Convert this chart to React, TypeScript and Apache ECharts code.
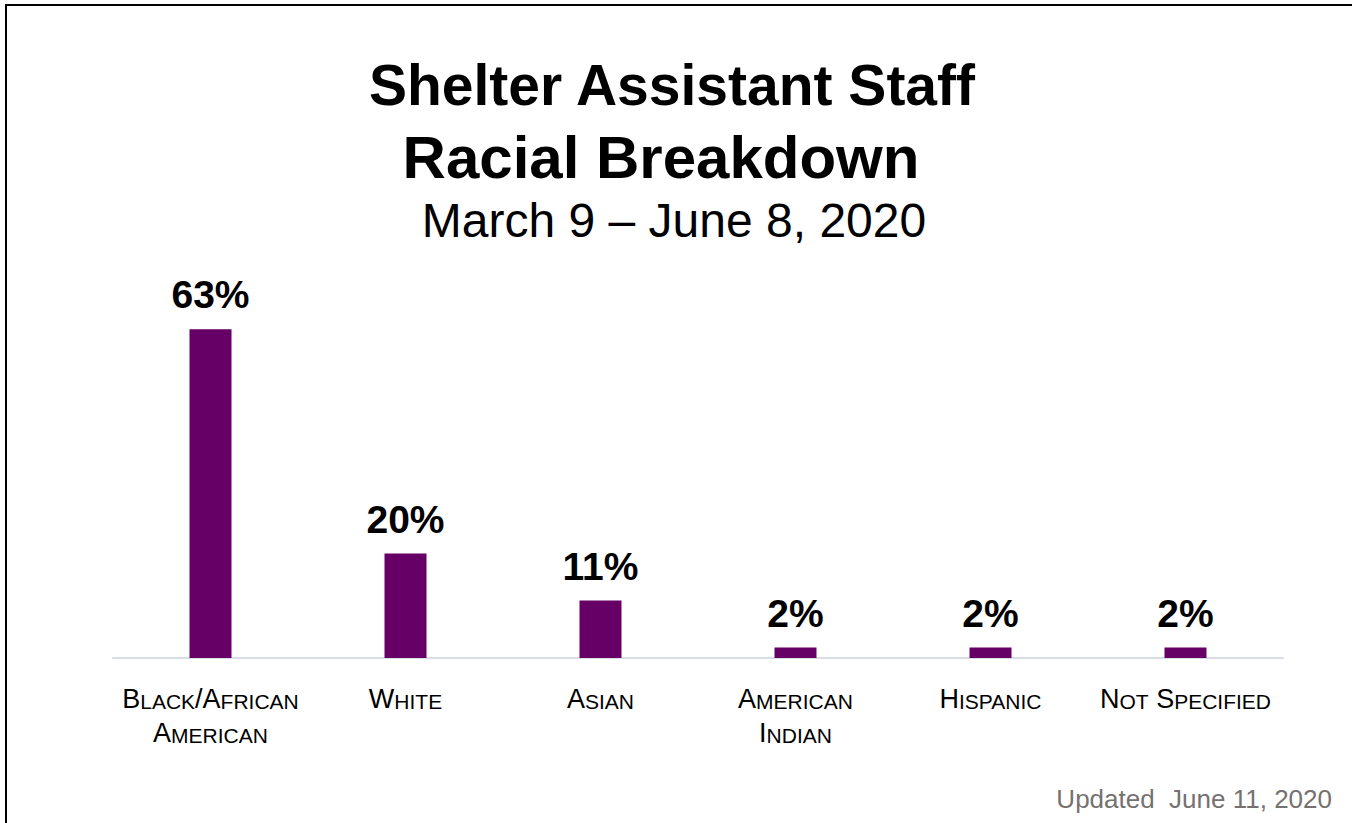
import React, { useEffect, useRef } from "react";
import * as echarts from "echarts";

const categories: string[] = [
  "Black/African\nAmerican",
  "White",
  "Asian",
  "American\nIndian",
  "Hispanic",
  "Not Specified",
];
const percentages: number[] = [63, 20, 11, 2, 2, 2];
const titleLines: string[] = ["Shelter Assistant Staff", "Racial Breakdown"];
const subtitle = "March 9 \u2013 June 8, 2020";
const footnote = "Updated  June 11, 2020";

const FONT = "'Liberation Sans', Arial, Helvetica, sans-serif";
const BAR_COLOR = "#660066";

function smallCaps(text: string): string {
  return text
    .split("\n")
    .map((line) => {
      let out = "";
      let cur = "";
      let curStyle = "";
      for (const ch of line) {
        const isLower = ch >= "a" && ch <= "z";
        const style = isLower ? "s" : "b";
        if (style !== curStyle && cur) {
          out += `{${curStyle}|${cur}}`;
          cur = "";
        }
        curStyle = style;
        cur += ch.toUpperCase();
      }
      if (cur) out += `{${curStyle}|${cur}}`;
      return out;
    })
    .join("\n");
}

export default function App() {
  const ref = useRef<HTMLDivElement>(null);
  useEffect(() => {
    if (!ref.current) return;
    const chart = echarts.init(ref.current, null, { renderer: "svg" });
    chart.setOption({
      animation: false,
      backgroundColor: "#ffffff",
      grid: { left: 113, right: 69, top: 136, bottom: 165 },
      xAxis: {
        type: "category",
        data: categories,
        axisLine: { show: true, lineStyle: { color: "#d9dde6", width: 2 } },
        axisTick: { show: false },
        axisLabel: {
          interval: 0,
          margin: 20,
          formatter: (v: string) => smallCaps(v),
          rich: {
            b: {
              fontFamily: FONT,
              fontSize: 27,
              color: "#000",
              lineHeight: 34,
              verticalAlign: "bottom",
            },
            s: {
              fontFamily: FONT,
              fontSize: 21,
              color: "#000",
              lineHeight: 34,
              verticalAlign: "bottom",
            },
          },
        },
      },
      yAxis: {
        type: "value",
        min: 0,
        max: 100,
        show: false,
        splitLine: { show: false },
      },
      series: [
        {
          type: "bar",
          data: percentages,
          barWidth: 42,
          itemStyle: { color: BAR_COLOR },
          label: {
            show: true,
            position: "top",
            distance: 15,
            formatter: "{c}%",
            fontFamily: FONT,
            fontSize: 39,
            fontWeight: "bold",
            color: "#000",
          },
        },
      ],
      graphic: [
        {
          type: "line",
          shape: { x1: 6, y1: 5, x2: 1352, y2: 5 },
          style: { stroke: "#000", lineWidth: 2 },
        },
        {
          type: "line",
          shape: { x1: 6, y1: 4, x2: 6, y2: 823 },
          style: { stroke: "#000", lineWidth: 2 },
        },
        {
          type: "text",
          x: 672,
          y: 85,
          style: {
            text: titleLines[0],
            fontFamily: FONT,
            fontSize: 57,
            fontWeight: "bold",
            fill: "#000",
            align: "center",
            verticalAlign: "middle",
          },
        },
        {
          type: "text",
          x: 661,
          y: 157,
          style: {
            text: titleLines[1],
            fontFamily: FONT,
            fontSize: 60,
            fontWeight: "bold",
            fill: "#000",
            align: "center",
            verticalAlign: "middle",
          },
        },
        {
          type: "text",
          x: 674,
          y: 220,
          style: {
            text: subtitle,
            fontFamily: FONT,
            fontSize: 48,
            fill: "#000",
            align: "center",
            verticalAlign: "middle",
          },
        },
        {
          type: "text",
          x: 1332,
          y: 799,
          style: {
            text: footnote,
            fontFamily: FONT,
            fontSize: 26,
            fill: "#767171",
            align: "right",
            verticalAlign: "middle",
          },
        },
      ],
    });
    return () => chart.dispose();
  }, []);
  return (
    <div
      ref={ref}
      style={{ position: "fixed", left: 0, top: 0, width: 1352, height: 823 }}
    />
  );
}
